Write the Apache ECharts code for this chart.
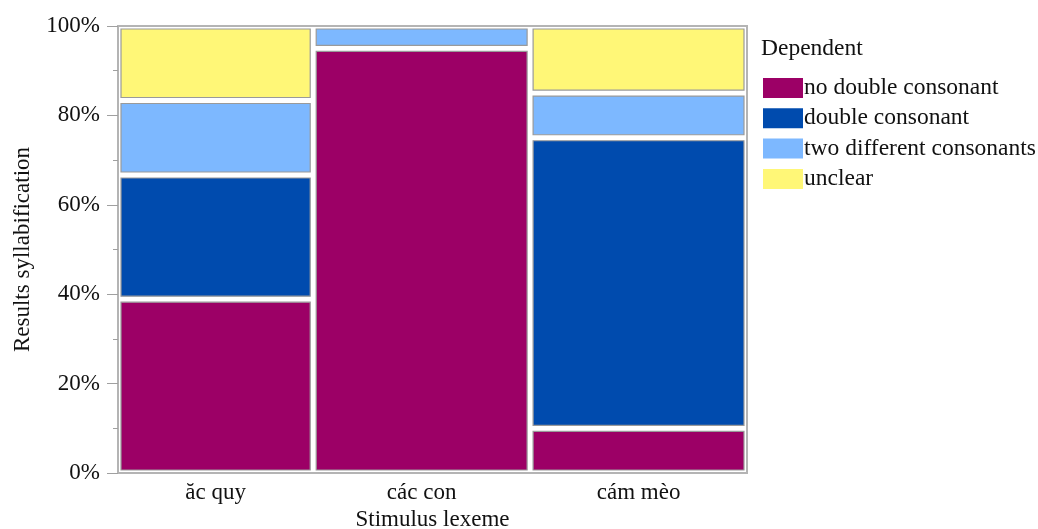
<!DOCTYPE html>
<html>
<head>
<meta charset="utf-8">
<script src="https://cdn.jsdelivr.net/npm/echarts@6/dist/echarts.min.js"></script>
<style>
html,body{margin:0;padding:0;background:#fff;}
#chart{width:1038px;height:529px;}
</style>
</head>
<body>
<div id="chart"></div>
<script>
const categories = ['ăc quy', 'các con', 'cám mèo'];
const dependents = ['no double consonant', 'double consonant', 'two different consonants', 'unclear'];
// counts per stimulus (read from tile heights)
const noDouble = [7, 19, 2];
const doubleCons = [5, 0, 13];
const twoDiff = [3, 1, 2];
const unclear = [3, 0, 3];
const yTickValues = [0, 20, 40, 60, 80, 100];
const colors = ['#9C0066', '#004BAE', '#7DB8FF', '#FFF777'];

const groups = [noDouble, doubleCons, twoDiff, unclear];
const totals = categories.map((c, i) => groups.reduce((s, g) => s + g[i], 0));
const grand = totals.reduce((a, b) => a + b, 0);
const xStarts = [];
let acc = 0;
totals.forEach(t => { xStarts.push(acc); acc += t; });
const centers = totals.map((t, i) => xStarts[i] + t / 2);

const FONT = 'Liberation Serif';
const FS = 23;

const series = dependents.map((name, k) => {
  const data = [];
  categories.forEach((c, i) => {
    let below = 0;
    for (let j = 0; j < k; j++) below += groups[j][i];
    const v = groups[k][i];
    if (v > 0) {
      data.push([xStarts[i], xStarts[i] + totals[i], below / totals[i] * 100, (below + v) / totals[i] * 100]);
    }
  });
  return {
    name: name,
    type: 'custom',
    itemStyle: { color: colors[k] },
    renderItem: function (params, api) {
      const p0 = api.coord([api.value(0), api.value(3)]);
      const p1 = api.coord([api.value(1), api.value(2)]);
      const inset = 3;
      return {
        type: 'rect',
        shape: {
          x: p0[0] + inset,
          y: p0[1] + inset,
          width: p1[0] - p0[0] - 2 * inset,
          height: p1[1] - p0[1] - 2 * inset
        },
        style: { fill: colors[k], stroke: '#9a9a9a', lineWidth: 1.2 }
      };
    },
    encode: { x: [0, 1], y: [2, 3] },
    data: data
  };
});

const chart = echarts.init(document.getElementById('chart'), null, { renderer: 'canvas' });
chart.setOption({
  animation: false,
  backgroundColor: '#fff',
  textStyle: { fontFamily: FONT },
  grid: { left: 118, right: 291, top: 26, bottom: 56, containLabel: false, outerBoundsMode: 'none', show: true, borderColor: '#b4b4b4', borderWidth: 2, backgroundColor: 'transparent' },
  title: {
    text: 'Dependent', left: 756, top: 32,
    textStyle: { fontFamily: FONT, fontSize: 23.5, fontWeight: 'normal', color: '#111' }
  },
  legend: {
    orient: 'vertical', left: 758, top: 71,
    itemWidth: 40, itemHeight: 20, itemGap: 6.3,
    icon: 'rect',
    data: dependents,
    textStyle: { fontFamily: FONT, fontSize: 23.5, color: '#111', padding: [0, 0, 0, -4] },
    selectedMode: false
  },
  xAxis: {
    type: 'value', min: 0, max: grand,
    name: 'Stimulus lexeme', nameLocation: 'middle', nameGap: 33,
    nameTextStyle: { fontFamily: FONT, fontSize: FS, color: '#111' },
    axisLine: { show: true, lineStyle: { color: '#b4b4b4', width: 2 } },
    axisTick: { show: false },
    splitLine: { show: false },
    axisLabel: {
      customValues: centers,
      margin: 8,
      fontFamily: FONT, fontSize: FS, color: '#111',
      formatter: function (v) {
        const idx = centers.findIndex(c => Math.abs(c - v) < 1e-6);
        return idx >= 0 ? categories[idx] : '';
      }
    }
  },
  yAxis: {
    type: 'value', min: 0, max: 100, interval: 20,
    name: 'Results syllabification', nameLocation: 'middle', nameGap: 84,
    nameTextStyle: { fontFamily: FONT, fontSize: FS, color: '#111' },
    axisLine: { show: true, lineStyle: { color: '#b4b4b4', width: 2 } },
    axisTick: { show: true, length: 11, lineStyle: { color: '#a0a0a0', width: 1 } },
    minorTick: { show: true, splitNumber: 2, length: 5, lineStyle: { color: '#a0a0a0', width: 1 } },
    splitLine: { show: false },
    axisLabel: {
      customValues: yTickValues,
      margin: 18, fontFamily: FONT, fontSize: FS, color: '#111',
      formatter: '{value}%'
    }
  },
  series: series
});
</script>
</body>
</html>
